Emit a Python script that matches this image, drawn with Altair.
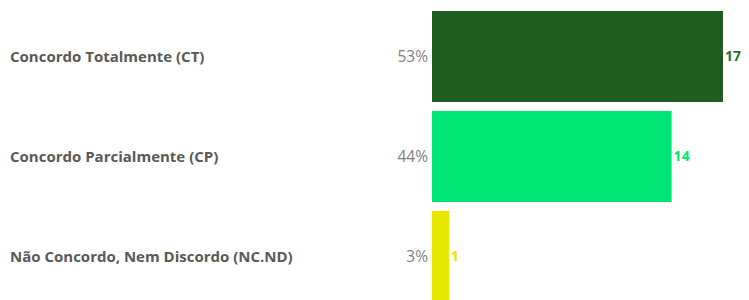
import altair as alt
import pandas as pd

categories = ["Concordo Totalmente (CT)", "Concordo Parcialmente (CP)", "Não Concordo, Nem Discordo (NC.ND)"]
counts = [17, 14, 1]
percents = ["53%", "44%", "3%"]
bar_colors = ["#1e5c20", "#00e676", "#e6e600"]
label_colors = ["#2b6e2d", "#00e676", "#e6e600"]

df = pd.DataFrame({
    "cat": categories,
    "count": counts,
    "pct": percents,
    "bar_color": bar_colors,
    "label_color": label_colors,
})

y = alt.Y("cat:N", sort=categories, axis=None,
          scale=alt.Scale(paddingInner=0.09, paddingOuter=0.03))
# 17.12 px per unit: 292 px plot width
xs = alt.Scale(domain=[0, 17.06], nice=False)

base = alt.Chart(df)

bars = base.mark_bar().encode(
    x=alt.X("count:Q", scale=xs, axis=None),
    y=y,
    color=alt.Color("bar_color:N", scale=None),
)

counts_txt = base.mark_text(align="left", baseline="middle", dx=2,
                            font="Open Sans", fontWeight="bold", fontSize=14).encode(
    x=alt.X("count:Q", scale=xs, axis=None),
    y=y,
    text="count:Q",
    color=alt.Color("label_color:N", scale=None),
)

pct_txt = base.mark_text(align="right", baseline="middle",
                         font="Open Sans", fontSize=15.5, color="#7f7f7f").encode(
    x=alt.value(-4),
    y=y,
    text="pct:N",
)

cat_txt = base.mark_text(align="left", baseline="middle",
                         font="Open Sans", fontWeight="bold", fontSize=15, color="#595959").encode(
    x=alt.value(-422),
    y=y,
    text="cat:N",
)

chart = alt.layer(bars, counts_txt, pct_txt, cat_txt).properties(
    width=292, height=297,
    autosize=alt.AutoSizeParams(type="none"),
    padding={"left": 424, "top": 0, "right": 17, "bottom": 0},
).configure_view(stroke=None)

chart.save("out.html", embed_options={"renderer": "svg", "actions": False})
